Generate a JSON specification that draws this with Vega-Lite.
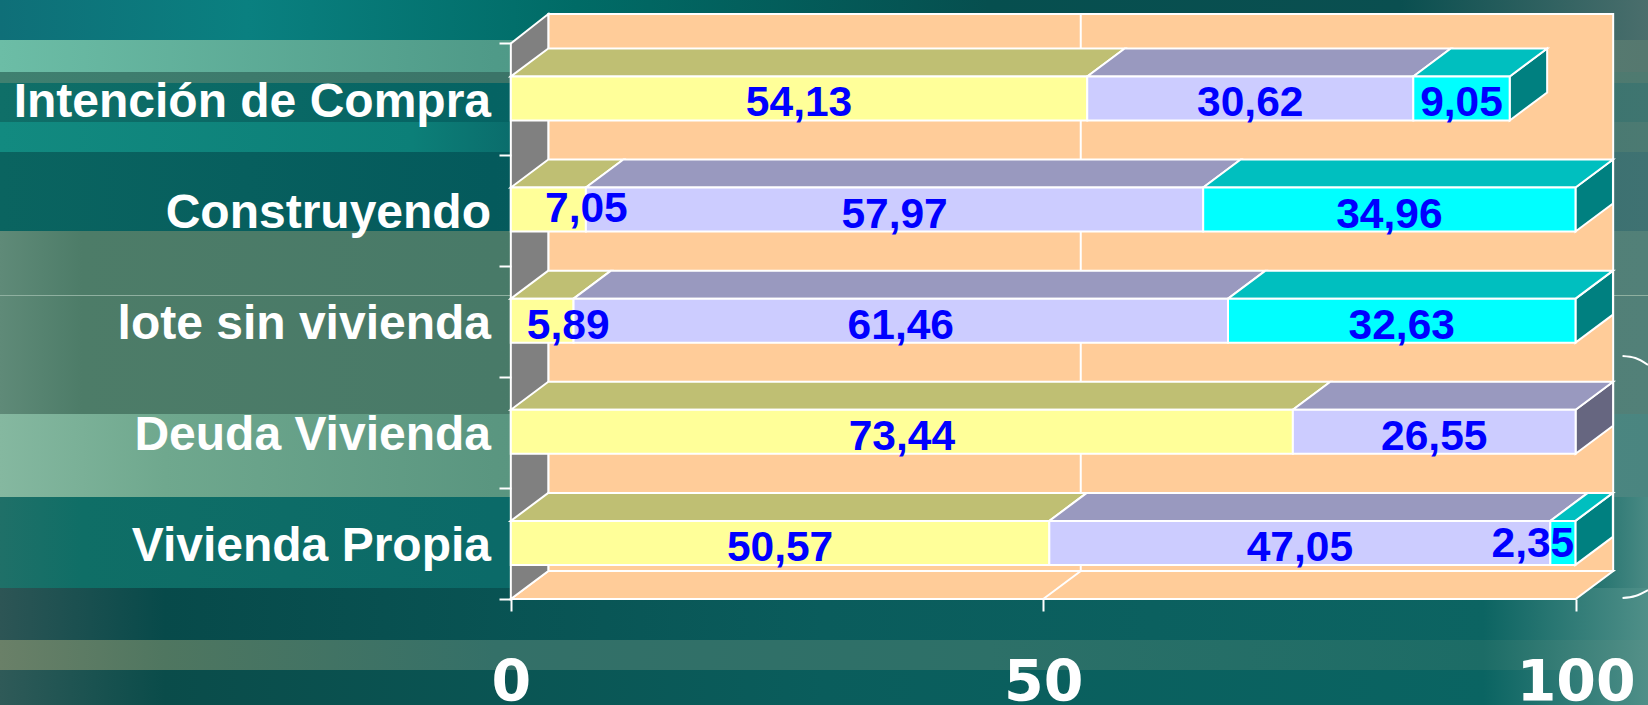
{
"$schema":"https://vega.github.io/schema/vega-lite/v6.json",
"width":1648,"height":705,"autosize":{"type":"none"},"padding":0,"background":"#0a5f5f",
"config":{"view":{"stroke":null}},
"data":{"values":[{}]},
"layer":[
{"mark":{"type":"rect","fill":{"gradient":"linear","x1":0,"x2":1,"y1":0,"y2":0,"stops":[{"offset":0,"color":"#0f6f78"},{"offset":0.15,"color":"#0a8080"},{"offset":0.35,"color":"#006b66"},{"offset":0.6,"color":"#064f4f"},{"offset":0.85,"color":"#0a4f50"},{"offset":1,"color":"#4a6e6c"}]}},
 "encoding":{
  "x":{"datum":-47.97,"scale":{"domain":[-47.97,106.79],"nice":false,"zero":false},"axis":{"orient":"bottom","offset":-106,"values":[0,50,100],"format":"d","title":null,"domain":false,"grid":false,"ticks":true,"tickColor":"#ffffff","tickWidth":2,"tickSize":12,"labelColor":"#ffffff","labelFont":"DejaVu Sans","labelFontWeight":"bold","labelFontSize":57,"labelPadding":89,"labelBaseline":"alphabetic","labelOverlap":false,"labelFlush":false,"zindex":1}},
  "x2":{"datum":106.79},
  "y":{"datum":5.391,"scale":{"domain":[-0.954,5.391],"nice":false,"zero":false},"axis":{"orient":"left","offset":-511,"values":[0,1,2,3,4,5],"title":null,"domain":false,"grid":false,"ticks":true,"labels":false,"tickColor":"#ffffff","tickWidth":2,"tickSize":12,"zindex":1}},
  "y2":{"datum":5.031}}},
{"encoding":{"x":{"datum":-47.97},"x2":{"datum":106.79}},
 "layer":[
 {"mark":{"type":"rect","fill":{"gradient":"linear","x1":0,"x2":1,"y1":0,"y2":0,"stops":[{"offset":0,"color":"#6cbda6"},{"offset":0.3,"color":"#4f9a88"},{"offset":1,"color":"#56786f"}]}},"encoding":{"y":{"datum":5.031},"y2":{"datum":4.743}}},
 {"mark":{"type":"rect","fill":{"gradient":"linear","x1":0,"x2":1,"y1":0,"y2":0,"stops":[{"offset":0,"color":"#3f8070"},{"offset":0.3,"color":"#3b7468"},{"offset":1,"color":"#4f7a70"}]}},"encoding":{"y":{"datum":4.743},"y2":{"datum":4.644}}},
 {"mark":{"type":"rect","fill":{"gradient":"linear","x1":0,"x2":1,"y1":0,"y2":0,"stops":[{"offset":0,"color":"#0f6f68"},{"offset":0.3,"color":"#056363"},{"offset":1,"color":"#3f7570"}]}},"encoding":{"y":{"datum":4.644},"y2":{"datum":4.293}}},
 {"mark":{"type":"rect","fill":{"gradient":"linear","x1":0,"x2":1,"y1":0,"y2":0,"stops":[{"offset":0,"color":"#128a80"},{"offset":0.25,"color":"#0c7f78"},{"offset":0.32,"color":"#0a6a6a"},{"offset":1,"color":"#4c7a72"}]}},"encoding":{"y":{"datum":4.293},"y2":{"datum":4.023}}},
 {"mark":{"type":"rect","fill":{"gradient":"linear","x1":0,"x2":1,"y1":0,"y2":0,"stops":[{"offset":0,"color":"#0a6460"},{"offset":0.3,"color":"#045a5c"},{"offset":1,"color":"#3f7272"}]}},"encoding":{"y":{"datum":4.023},"y2":{"datum":3.312}}},
 {"mark":{"type":"rect","fill":{"gradient":"linear","x1":0,"x2":1,"y1":0,"y2":0,"stops":[{"offset":0,"color":"#5f8a78"},{"offset":0.05,"color":"#4d7c68"},{"offset":0.3,"color":"#487a68"},{"offset":1,"color":"#528078"}]}},"encoding":{"y":{"datum":3.312},"y2":{"datum":1.665}}},
 {"mark":{"type":"rect","fill":"#8fb0a0"},"encoding":{"y":{"datum":2.736},"y2":{"datum":2.727}}},
 {"mark":{"type":"rect","fill":{"gradient":"linear","x1":0,"x2":1,"y1":0,"y2":0,"stops":[{"offset":0,"color":"#85b8a0"},{"offset":0.1,"color":"#6fa88e"},{"offset":0.3,"color":"#5a9680"},{"offset":1,"color":"#4a8580"}]}},"encoding":{"y":{"datum":1.665},"y2":{"datum":0.918}}},
 {"mark":{"type":"rect","fill":{"gradient":"linear","x1":0,"x2":1,"y1":0,"y2":0,"stops":[{"offset":0,"color":"#1f7068"},{"offset":0.05,"color":"#0f6e66"},{"offset":0.3,"color":"#0b6a68"},{"offset":0.95,"color":"#0e6663"},{"offset":1,"color":"#4a8a84"}]}},"encoding":{"y":{"datum":0.918},"y2":{"datum":0.099}}},
 {"mark":{"type":"rect","fill":{"gradient":"linear","x1":0,"x2":1,"y1":0,"y2":0,"stops":[{"offset":0,"color":"#2d5555"},{"offset":0.1,"color":"#074a4a"},{"offset":0.5,"color":"#0a5c5c"},{"offset":0.9,"color":"#0c6462"},{"offset":1,"color":"#4f8f88"}]}},"encoding":{"y":{"datum":0.099},"y2":{"datum":-0.369}}},
 {"mark":{"type":"rect","fill":{"gradient":"linear","x1":0,"x2":1,"y1":0,"y2":0,"stops":[{"offset":0,"color":"#6a8068"},{"offset":0.1,"color":"#4f7660"},{"offset":0.3,"color":"#347068"},{"offset":0.6,"color":"#2d7068"},{"offset":0.9,"color":"#1c6c66"},{"offset":1,"color":"#549088"}]}},"encoding":{"y":{"datum":-0.369},"y2":{"datum":-0.639}}},
 {"mark":{"type":"rect","fill":{"gradient":"linear","x1":0,"x2":1,"y1":0,"y2":0,"stops":[{"offset":0,"color":"#2f5a58"},{"offset":0.1,"color":"#0a4c4a"},{"offset":0.5,"color":"#0a5d5c"},{"offset":0.9,"color":"#0a6462"},{"offset":1,"color":"#4f8f88"}]}},"encoding":{"y":{"datum":-0.639},"y2":{"datum":-0.954}}}
 ]},
{"data":{"values":[{"arco":"superior","x":104.4,"y":2.187},{"arco":"superior","x":105.6,"y":2.169},{"arco":"superior","x":106.79,"y":2.106},{"arco":"inferior","x":104.4,"y":0.009},{"arco":"inferior","x":105.6,"y":0.027},{"arco":"inferior","x":106.79,"y":0.081}]},
 "mark":{"type":"line","stroke":"#ffffff","strokeWidth":2,"interpolate":"monotone"},
 "encoding":{"x":{"field":"x","type":"quantitative"},"y":{"field":"y","type":"quantitative"},"detail":{"field":"arco"}}},
{"mark":{"type":"rect","fill":"#FFCC99","stroke":"#ffffff","strokeWidth":2},
 "encoding":{"x":{"datum":3.52},"x2":{"datum":103.52},"y":{"datum":0.252},"y2":{"datum":5.265}}},
{"data":{"values":[{"d":0},{"d":1}]},
 "transform":[{"calculate":"datum.d*3.52","as":"xa"},{"calculate":"100+datum.d*3.52","as":"xb"},{"calculate":"datum.d*0.252","as":"yb"},{"calculate":"5+datum.d*0.265","as":"yt"}],
 "layer":[
 {"mark":{"type":"area","orient":"horizontal","fill":"#FFCC99","stroke":"#ffffff","strokeWidth":2},"encoding":{"y":{"field":"yb","type":"quantitative"},"x":{"field":"xa","type":"quantitative"},"x2":{"field":"xb"}}},
 {"mark":{"type":"area","orient":"vertical","fill":"#808080","stroke":"#ffffff","strokeWidth":2},"encoding":{"x":{"field":"xa","type":"quantitative"},"y":{"field":"yb","type":"quantitative"},"y2":{"field":"yt"}}}
 ]},
{"data":{"values":[{"x":50,"y":0},{"x":53.52,"y":0.252},{"x":53.52,"y":5.265}]},
 "mark":{"type":"line","stroke":"#ffffff","strokeWidth":2},
 "encoding":{"x":{"field":"x","type":"quantitative"},"y":{"field":"y","type":"quantitative"}}},
{"data":{"values":[
 {"categoria":"Intención de Compra","serie":"Serie 1","valor":54.13},{"categoria":"Intención de Compra","serie":"Serie 2","valor":30.62},{"categoria":"Intención de Compra","serie":"Serie 3","valor":9.05},
 {"categoria":"Construyendo","serie":"Serie 1","valor":7.05},{"categoria":"Construyendo","serie":"Serie 2","valor":57.97},{"categoria":"Construyendo","serie":"Serie 3","valor":34.96},
 {"categoria":"lote sin vivienda","serie":"Serie 1","valor":5.89},{"categoria":"lote sin vivienda","serie":"Serie 2","valor":61.46},{"categoria":"lote sin vivienda","serie":"Serie 3","valor":32.63},
 {"categoria":"Deuda Vivienda","serie":"Serie 1","valor":73.44},{"categoria":"Deuda Vivienda","serie":"Serie 2","valor":26.55},
 {"categoria":"Vivienda Propia","serie":"Serie 1","valor":50.57},{"categoria":"Vivienda Propia","serie":"Serie 2","valor":47.05},{"categoria":"Vivienda Propia","serie":"Serie 3","valor":2.35}]},
 "transform":[
  {"stack":"valor","groupby":["categoria"],"sort":[{"field":"serie"}],"as":["inicio","fin"]},
  {"joinaggregate":[{"op":"max","field":"fin","as":"finMax"}],"groupby":["categoria"]},
  {"calculate":"indexof(['Vivienda Propia','Deuda Vivienda','lote sin vivienda','Construyendo','Intención de Compra'],datum.categoria)","as":"fila"},
  {"calculate":"datum.fila+0.307","as":"base"},
  {"calculate":"datum.fila+0.703","as":"techo"},
  {"calculate":"datum.categoria+datum.serie","as":"id"},
  {"calculate":"replace(format(datum.valor,'.2f'),'.',',')","as":"etiqueta"},
  {"calculate":"(datum.base+datum.techo)/2","as":"centro"},
  {"calculate":"(datum.inicio+datum.fin)/2","as":"medio"}
 ],
 "encoding":{"color":{"field":"tono","type":"nominal","legend":null,"scale":{"domain":["frente Serie 1","frente Serie 2","frente Serie 3","techo Serie 1","techo Serie 2","techo Serie 3","lado Serie 1","lado Serie 2","lado Serie 3"],"range":["#FFFF99","#CCCCFF","#00FFFF","#BFBF73","#9999BF","#00BFBF","#80804D","#666680","#008080"]}}},
 "layer":[
 {"transform":[{"filter":"datum.fin==datum.finMax"},{"calculate":"'lado '+datum.serie","as":"tono"},{"calculate":"[0,1]","as":"v"},{"flatten":["v"]},{"calculate":"datum.fin+datum.v*3.52","as":"xs"},{"calculate":"datum.base+datum.v*0.252","as":"ys"},{"calculate":"datum.techo+datum.v*0.252","as":"yt"}],
  "mark":{"type":"area","orient":"vertical","stroke":"#ffffff","strokeWidth":2},
  "encoding":{"x":{"field":"xs","type":"quantitative"},"y":{"field":"ys","type":"quantitative"},"y2":{"field":"yt"},"detail":{"field":"id"}}},
 {"transform":[{"calculate":"'techo '+datum.serie","as":"tono"},{"calculate":"[0,1]","as":"v"},{"flatten":["v"]},{"calculate":"datum.inicio+datum.v*3.52","as":"xa"},{"calculate":"datum.fin+datum.v*3.52","as":"xb"},{"calculate":"datum.techo+datum.v*0.252","as":"yt"}],
  "mark":{"type":"area","orient":"horizontal","stroke":"#ffffff","strokeWidth":2},
  "encoding":{"y":{"field":"yt","type":"quantitative"},"x":{"field":"xa","type":"quantitative"},"x2":{"field":"xb"},"detail":{"field":"id"}}},
 {"transform":[{"calculate":"'frente '+datum.serie","as":"tono"}],
  "mark":{"type":"rect","stroke":"#ffffff","strokeWidth":2},
  "encoding":{"x":{"field":"inicio","type":"quantitative"},"x2":{"field":"fin"},"y":{"field":"base","type":"quantitative"},"y2":{"field":"techo"}}},
 {"transform":[{"filter":"datum.valor>=9"}],
  "mark":{"type":"text","font":"Liberation Sans","fontWeight":"bold","fontSize":42.5,"baseline":"middle","align":"center","dy":5},
  "encoding":{"x":{"field":"medio","type":"quantitative"},"y":{"field":"centro","type":"quantitative"},"text":{"field":"etiqueta"},"color":{"value":"#0000FF"}}},
 {"transform":[{"filter":"datum.valor==7.05"}],
  "mark":{"type":"text","font":"Liberation Sans","fontWeight":"bold","fontSize":42.5,"baseline":"middle","align":"center","dx":38,"dy":-1},
  "encoding":{"x":{"field":"medio","type":"quantitative"},"y":{"field":"centro","type":"quantitative"},"text":{"field":"etiqueta"},"color":{"value":"#0000FF"}}},
 {"transform":[{"filter":"datum.valor==5.89"}],
  "mark":{"type":"text","font":"Liberation Sans","fontWeight":"bold","fontSize":42.5,"baseline":"middle","align":"center","dx":26,"dy":5},
  "encoding":{"x":{"field":"medio","type":"quantitative"},"y":{"field":"centro","type":"quantitative"},"text":{"field":"etiqueta"},"color":{"value":"#0000FF"}}},
 {"transform":[{"filter":"datum.valor==2.35"}],
  "mark":{"type":"text","font":"Liberation Sans","fontWeight":"bold","fontSize":42.5,"baseline":"middle","align":"center","dx":-30,"dy":1},
  "encoding":{"x":{"field":"medio","type":"quantitative"},"y":{"field":"centro","type":"quantitative"},"text":{"field":"etiqueta"},"color":{"value":"#0000FF"}}}
 ]},
{"data":{"values":[{"etiqueta":"Intención de Compra","fila":4},{"etiqueta":"Construyendo ","fila":3},{"etiqueta":"lote sin vivienda","fila":2},{"etiqueta":"Deuda Vivienda","fila":1},{"etiqueta":"Vivienda Propia","fila":0}]},
 "transform":[{"calculate":"datum.fila+0.5","as":"centro"},{"calculate":"replace(datum.etiqueta,' ','\u00a0')","as":"texto"}],
 "mark":{"type":"text","font":"Liberation Sans","fontWeight":"bold","fontSize":48,"align":"right","baseline":"middle","color":"#ffffff","dy":4},
 "encoding":{"x":{"datum":-1.86},"y":{"field":"centro","type":"quantitative"},"text":{"field":"texto"}}}
]
}
